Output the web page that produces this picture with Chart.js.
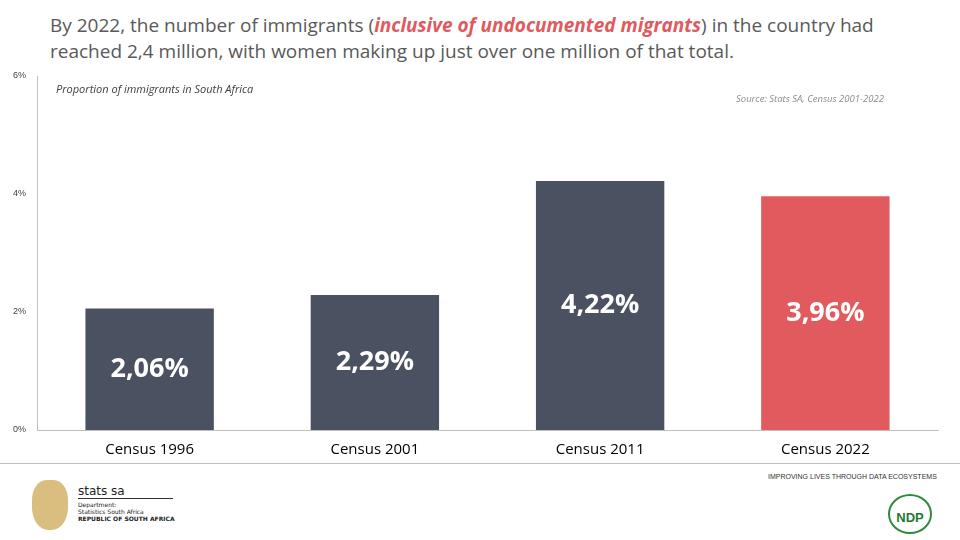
<!DOCTYPE html>
<html><head><meta charset="utf-8">
<script src="https://cdn.jsdelivr.net/npm/chart.js@4"></script>
<style>
body{margin:0;width:960px;height:540px;background:#fff;font-family:"Open Sans",sans-serif;position:relative;overflow:hidden}
#title{position:absolute;left:50px;top:12px;width:900px;font-size:19px;line-height:26px;color:#595959}
#title .hl{color:#e05a5e;font-weight:bold;font-style:italic}
#wrap{position:absolute;left:0;top:66px;width:950px;height:396px}
#sub{position:absolute;left:56px;top:81px;font-size:11px;font-style:italic;color:#404040}
#src{position:absolute;left:736px;top:92px;font-size:9.5px;font-style:italic;color:#8c8c8c}
#line{position:absolute;left:0;top:463px;width:960px;height:1px;background:#bfbfbf}
#imp{position:absolute;left:768px;top:473px;font-size:7px;font-family:"Liberation Sans",sans-serif;color:#333}
#stats{position:absolute;left:78px;top:484px;font-family:"DejaVu Sans",sans-serif;color:#222}
#ndp{position:absolute;left:888px;top:494px;width:40px;height:36px;border-radius:50%;background:#fff;border:2px solid #2e8b3e;color:#1e7a30;font:bold 13px "Liberation Sans",sans-serif;text-align:center;line-height:44px}
#crest{position:absolute;left:32px;top:480px;width:36px;height:50px;border-radius:40% 40% 45% 45%;background:#c9a34a;opacity:.7}
</style></head><body>
<div id="title">By 2022, the number of immigrants (<span class="hl">inclusive of undocumented migrants</span>) in the country had reached 2,4 million, with women making up just over one million of that total.</div>
<div id="wrap"><canvas id="c" width="950" height="396"></canvas></div>
<div id="sub">Proportion of immigrants in South Africa</div>
<div id="src">Source: Stats SA, Census 2001-2022</div>
<div id="line"></div>
<div id="imp">IMPROVING LIVES THROUGH DATA ECOSYSTEMS</div>
<div id="crest"></div>
<div id="stats"><div style="font-size:12px;border-bottom:1px solid #333;width:95px">stats sa</div><div style="font-size:6px;line-height:7px;margin-top:2px">Department:<br>Statistics South Africa<br><b>REPUBLIC OF SOUTH AFRICA</b></div></div>
<div id="ndp">NDP</div>
<script>
const categories=["Census 1996","Census 2001","Census 2011","Census 2022"];
const values=[2.06,2.29,4.22,3.96];
const colors=["#4a5160","#4a5160","#4a5160","#e05a5e"];
const valueLabels=["2,06%","2,29%","4,22%","3,96%"];
const lbl={id:"lbl",afterDatasetsDraw(ch){const ctx=ch.ctx;ch.getDatasetMeta(0).data.forEach((b,i)=>{ctx.save();ctx.fillStyle="#fff";ctx.font="bold 27px 'Open Sans',sans-serif";ctx.textAlign="center";ctx.textBaseline="middle";ctx.fillText(valueLabels[i],b.x,(b.y+b.base)/2);ctx.restore();});}};
new Chart(document.getElementById("c"),{type:"bar",
data:{labels:categories,datasets:[{data:values,backgroundColor:colors,categoryPercentage:1,barPercentage:0.57}]},
options:{responsive:false,animation:false,devicePixelRatio:1,
 layout:{padding:{top:10,right:12,left:10}},
 plugins:{legend:{display:false},tooltip:{enabled:false}},
 scales:{
  x:{grid:{display:false},border:{color:"#bfbfbf"},ticks:{color:"#000",font:{size:15,family:"'Open Sans',sans-serif"}}},
  y:{min:0,max:6,ticks:{stepSize:2,callback:v=>v+"%",color:"#404040",font:{size:9}},grid:{display:false},border:{color:"#bfbfbf"}}
 }
},
plugins:[lbl]});
</script>
</body></html>
